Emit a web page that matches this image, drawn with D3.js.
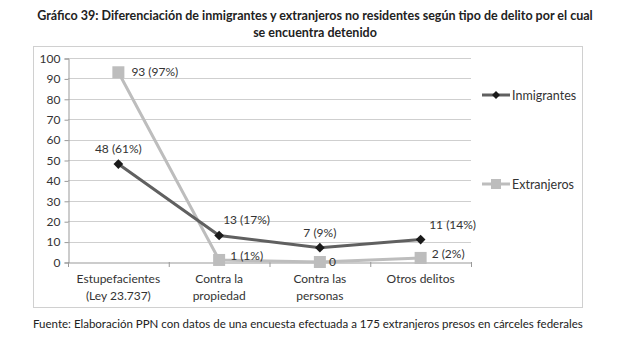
<!DOCTYPE html>
<html lang="es">
<head>
<meta charset="UTF-8">
<title>Gráfico 39</title>
<script src="https://d3js.org/d3.v7.min.js"></script>
<style>
  body { margin: 0; background: #fff; }
  text { font-family: Lato, "Open Sans", sans-serif; fill: #333; }
</style>
</head>
<body>
<svg width="630" height="350"></svg>
<script>
const categories = ["Estupefacientes\n(Ley 23.737)", "Contra la\npropiedad", "Contra las\npersonas", "Otros delitos"];
const inmigrantes = [48, 13, 7, 11];
const inmigrantesLabels = ["48 (61%)", "13 (17%)", "7 (9%)", "11 (14%)"];
const extranjeros = [93, 1, 0, 2];
const extranjerosLabels = ["93 (97%)", "1 (1%)", "0", "2 (2%)"];
const yTicks = d3.range(0, 101, 10);

const svg = d3.select("svg");
const margin = {left: 68, right: 471, top: 58, bottom: 262};

// title
svg.append("text").attr("x", 315).attr("y", 20).attr("text-anchor", "middle")
  .style("font-weight", "bold").style("font-size", "12.5px").style("fill", "#222")
  .text("Gráfico 39: Diferenciación de inmigrantes y extranjeros no residentes según tipo de delito por el cual");
svg.append("text").attr("x", 315).attr("y", 37).attr("text-anchor", "middle")
  .style("font-weight", "bold").style("font-size", "12.5px").style("fill", "#222")
  .text("se encuentra detenido");

// chart frame
svg.append("rect").attr("x", 33.5).attr("y", 46.5).attr("width", 549).attr("height", 261)
  .attr("fill", "none").attr("stroke", "#d0d0d0");

const x = d3.scaleBand().domain(categories).range([margin.left, margin.right]);
const y = d3.scaleLinear().domain([0, 100]).range([margin.bottom, margin.top]);

// gridlines
svg.append("g").selectAll("line").data(yTicks.filter(d => d > 0)).join("line")
  .attr("x1", margin.left).attr("x2", margin.right)
  .attr("y1", d => Math.round(y(d)) + 0.5).attr("y2", d => Math.round(y(d)) + 0.5)
  .attr("stroke", "#cfcfcf");

// y axis
const yAxis = svg.append("g").attr("transform", `translate(${margin.left + 0.5},0.5)`)
  .call(d3.axisLeft(y).tickValues(yTicks).tickSize(4).tickPadding(4));
yAxis.select(".domain").attr("stroke", "#999");
yAxis.selectAll(".tick line").attr("stroke", "#999");
yAxis.selectAll(".tick text").style("font-size", "12px").style("fill", "#333")
  .style("font-family", "Lato, sans-serif");

// x axis
const xAxis = svg.append("g").attr("transform", `translate(0.5,${margin.bottom + 0.5})`)
  .call(d3.axisBottom(x).tickSize(0).tickFormat(""));
xAxis.select(".domain").attr("stroke", "#999");
svg.append("g").selectAll("line").data(categories.concat([null])).join("line")
  .attr("x1", (d, i) => margin.left + i * x.bandwidth() + 0.5)
  .attr("x2", (d, i) => margin.left + i * x.bandwidth() + 0.5)
  .attr("y1", margin.bottom).attr("y2", margin.bottom + 5).attr("stroke", "#999");
categories.forEach(c => {
  const t = svg.append("text").attr("x", x(c) + x.bandwidth() / 2).attr("y", margin.bottom + 21)
    .attr("text-anchor", "middle").style("font-size", "12px");
  c.split("\n").forEach((line, i) => t.append("tspan")
    .attr("x", x(c) + x.bandwidth() / 2).attr("dy", i ? 17 : 0).text(line));
});

const cx = c => x(c) + x.bandwidth() / 2;
const line = d3.line().x((d, i) => cx(categories[i])).y(d => y(d));

// Extranjeros
svg.append("path").datum(extranjeros).attr("d", line)
  .attr("fill", "none").attr("stroke", "#bdbdbd").attr("stroke-width", 3);
svg.append("g").selectAll("rect").data(extranjeros).join("rect")
  .attr("x", (d, i) => cx(categories[i]) - 6).attr("y", d => y(d) - 6)
  .attr("width", 12).attr("height", 12).attr("fill", "#bdbdbd");

// Inmigrantes
svg.append("path").datum(inmigrantes).attr("d", line)
  .attr("fill", "none").attr("stroke", "#606060").attr("stroke-width", 3);
const diamond = d3.symbol().type(d3.symbolDiamond2).size(60);
svg.append("g").selectAll("path").data(inmigrantes).join("path")
  .attr("d", diamond)
  .attr("transform", (d, i) => `translate(${cx(categories[i])},${y(d)})`)
  .attr("fill", "#1a1a1a");

// data labels
const inmOffsets = [[0, -11, "middle"], [2, -11, "start"], [0, -11, "middle"], [0, -11, "middle"]];
const extOffsets = [[13, 4, "start"], [11, 0, "start"], [9, 4, "start"], [11, 0, "start"]];
svg.append("g").selectAll("text").data(inmigrantes).join("text")
  .attr("x", (d, i) => cx(categories[i]) + inmOffsets[i][0] + (i === 3 ? 32 : 0) + (i === 1 ? 2 : 0))
  .attr("y", (d, i) => y(d) + inmOffsets[i][1])
  .attr("text-anchor", (d, i) => inmOffsets[i][2])
  .style("font-size", "12px").text((d, i) => inmigrantesLabels[i]);
svg.append("g").selectAll("text").data(extranjeros).join("text")
  .attr("x", (d, i) => cx(categories[i]) + extOffsets[i][0])
  .attr("y", (d, i) => y(d) + extOffsets[i][1])
  .attr("text-anchor", "start")
  .style("font-size", "12px").text((d, i) => extranjerosLabels[i]);

// legend
const legend = [["Inmigrantes", "#606060", "diamond", 95], ["Extranjeros", "#bdbdbd", "square", 184]];
legend.forEach(([name, color, shape, ly]) => {
  svg.append("line").attr("x1", 482).attr("x2", 510).attr("y1", ly).attr("y2", ly)
    .attr("stroke", color).attr("stroke-width", 3);
  if (shape === "diamond") {
    svg.append("path").attr("d", d3.symbol().type(d3.symbolDiamond2).size(40))
      .attr("transform", `translate(496,${ly})`).attr("fill", "#1a1a1a");
  } else {
    svg.append("rect").attr("x", 491).attr("y", ly - 5).attr("width", 10).attr("height", 10)
      .attr("fill", color);
  }
  svg.append("text").attr("x", 512).attr("y", ly + 4.5).style("font-size", "12.5px").text(name);
});

// source
svg.append("text").attr("x", 33).attr("y", 328).style("font-size", "11.5px").style("fill", "#222")
  .text("Fuente: Elaboración PPN con datos de una encuesta efectuada a 175 extranjeros presos en cárceles federales");
</script>
</body>
</html>
